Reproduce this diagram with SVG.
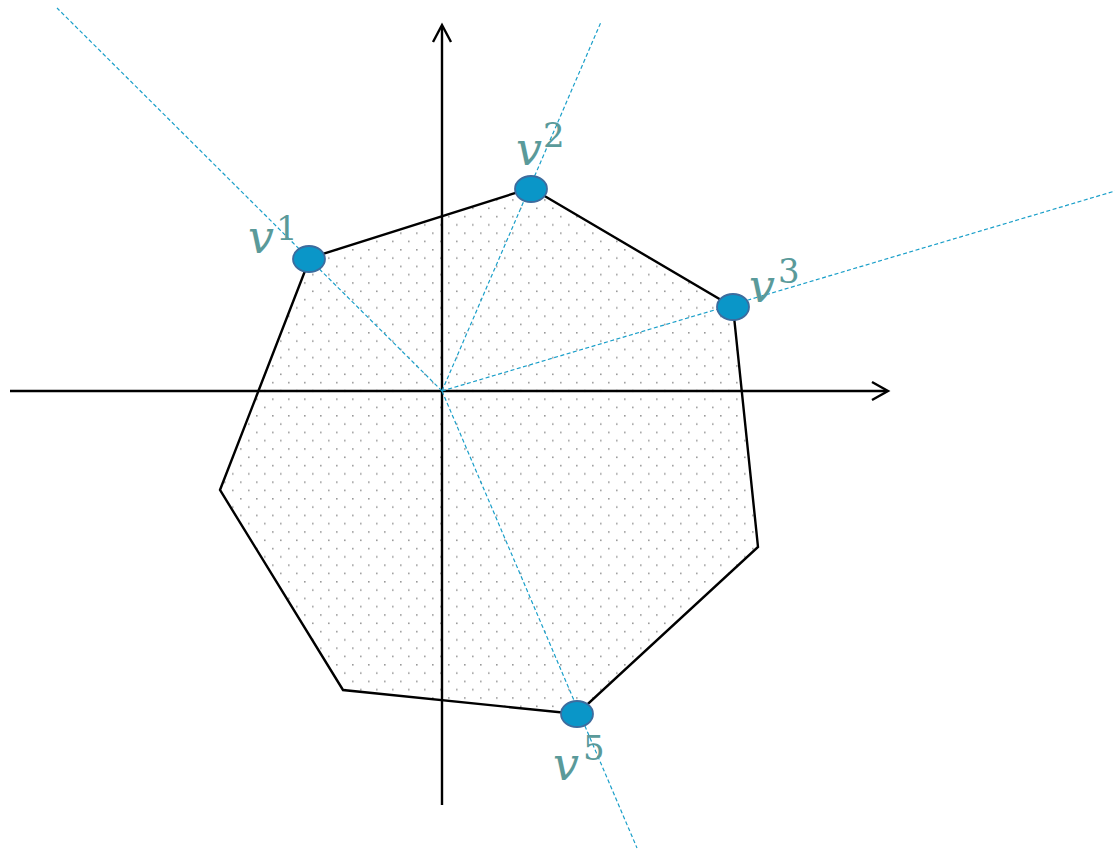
<svg xmlns="http://www.w3.org/2000/svg" width="1115" height="851" viewBox="0 0 1115 851">
<defs>
<pattern id="dots" x="0" y="0" width="16" height="16.6" patternUnits="userSpaceOnUse">
<rect x="0" y="0" width="1.6" height="1.6" fill="#9a9a9a"/>
<rect x="8" y="8.3" width="1.6" height="1.6" fill="#9a9a9a"/>
</pattern>
</defs>
<style>
.poly{fill:url(#dots);stroke:#000;stroke-width:2.4;stroke-linejoin:miter}
.axis{stroke:#000;stroke-width:2.4;fill:none}
.ray{stroke:#1a9fc9;stroke-width:1.2;stroke-dasharray:4 2.5;fill:none}
.vert{fill:#0a96c8;stroke:#3d6c9e;stroke-width:1.8}
.lv{font-family:"DejaVu Serif","Liberation Serif",serif;font-style:italic;font-size:46px;fill:#5a9a9a}
.ls{font-family:"DejaVu Serif","Liberation Serif",serif;font-size:34px;fill:#5a9a9a}
</style>
<g id="polygon">
<polygon class="poly" points="310,258 531,188 733,307 758,547 577,714 343,690 220,490"/>
</g>
<g id="axes">
<line class="axis" x1="10" y1="391" x2="887" y2="391"/>
<polyline class="axis" points="872,382 888,391 872,400"/>
<line class="axis" x1="442" y1="805" x2="442" y2="26"/>
<polyline class="axis" points="433,42 442,25 451,42"/>
</g>
<g id="connectors">
<line class="ray" x1="442" y1="391" x2="57" y2="8"/>
<line class="ray" x1="442" y1="391" x2="601" y2="22"/>
<line class="ray" x1="442" y1="391" x2="1115" y2="191"/>
<line class="ray" x1="442" y1="391" x2="637" y2="848"/>
</g>
<g id="v1">
<ellipse class="vert" cx="309" cy="259" rx="16" ry="13"/>
<text class="lv" x="248" y="253">v</text><text class="ls" x="276" y="240">1</text>
</g>
<g id="v2">
<ellipse class="vert" cx="531" cy="189" rx="16" ry="13"/>
<text class="lv" x="516" y="165">v</text><text class="ls" x="543" y="147">2</text>
</g>
<g id="v3">
<ellipse class="vert" cx="733" cy="307" rx="16" ry="13"/>
<text class="lv" x="749" y="302">v</text><text class="ls" x="778" y="283">3</text>
</g>
<g id="v5">
<ellipse class="vert" cx="577" cy="714" rx="16" ry="13"/>
<text class="lv" x="553" y="780">v</text><text class="ls" x="583" y="760">5</text>
</g>
</svg>
